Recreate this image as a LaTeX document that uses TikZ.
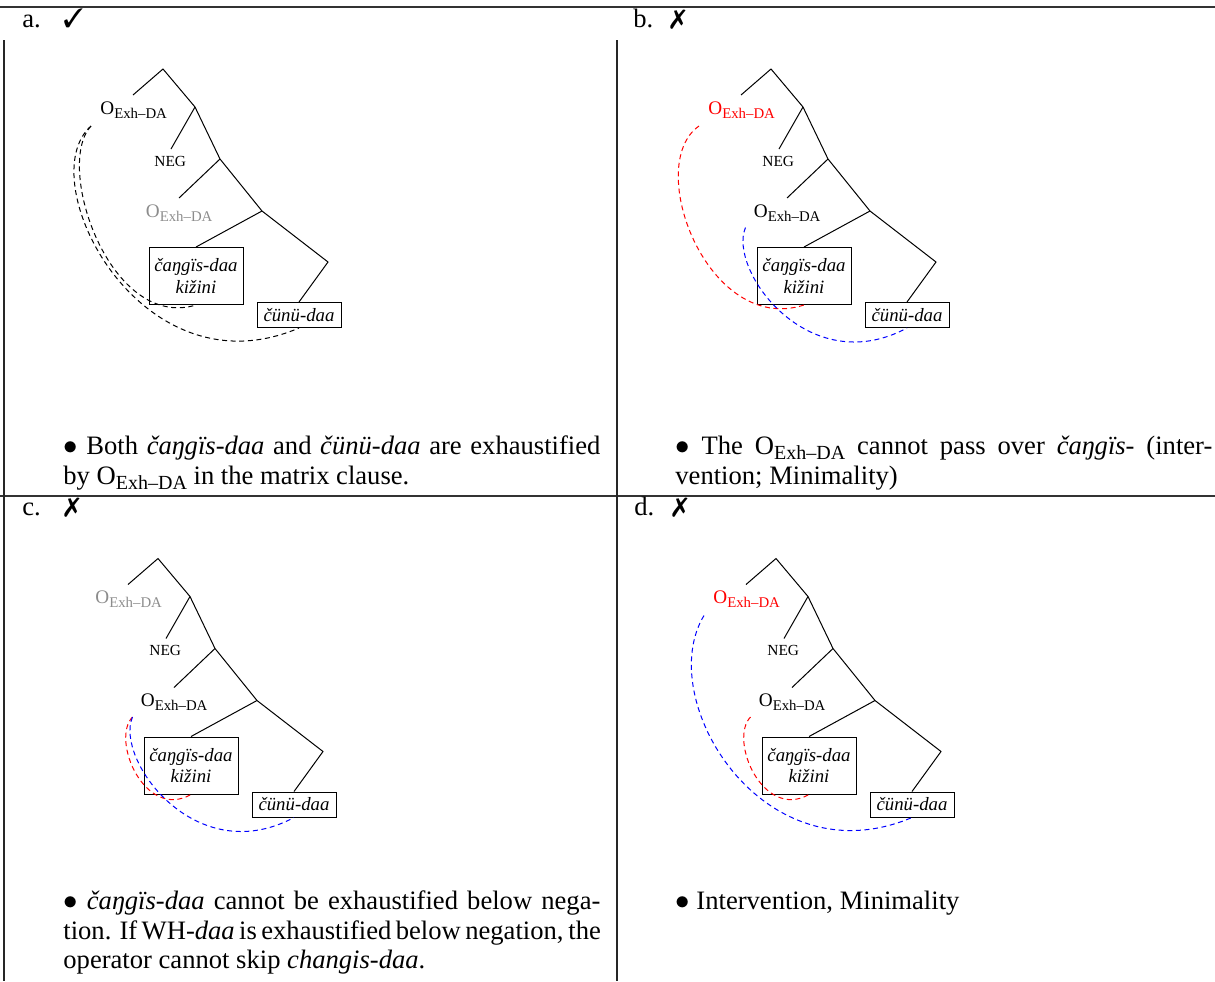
\documentclass[tikz,border=0pt]{standalone}
\usepackage{fontspec}
\setmainfont{Liberation Serif}
\usepackage{pifont}
\definecolor{tgray}{gray}{0.55}
\newcommand\OX[1]{O\raisebox{-0.21em}{\fontsize{#1}{#1}\selectfont Exh–DA}}
\newcommand\bul{$\bullet$}
\tikzset{
  tl/.style={line width=0.5pt},
  lbl/.style={inner sep=0pt, anchor=base west, font=\fontsize{9.6}{11}\selectfont},
  neg/.style={inner sep=0pt, anchor=base west, font=\fontsize{7.7}{9}\selectfont},
  wbox/.style={draw, line width=0.5pt, inner sep=0pt, align=center, anchor=north,
    font=\fontsize{9.4}{10.6}\selectfont\itshape},
  arc/.style={dash pattern=on 2.5pt off 1.8pt, line width=0.5pt},
  hrule/.style={line width=0.75pt, black!80},
  vrule/.style={line width=0.6pt, black!85},
  body/.style={inner sep=0pt, anchor=base west, font=\fontsize{13.3}{15}\selectfont},
  hdr/.style={inner sep=0pt, anchor=base west, font=\fontsize{13.3}{15}\selectfont},
}
% tree panel: #1 prefix, #2 shift, #3 colour of upper O, #4 colour of lower O, #5 curves
\newcommand\treepanel[5]{%
\begin{scope}[shift={(#2)}]
  \coordinate (#1-t0) at (163,69);
  \coordinate (#1-l0) at (133,95);
  \coordinate (#1-n1) at (195,107);
  \coordinate (#1-l1) at (171,149);
  \coordinate (#1-n2) at (220,159);
  \coordinate (#1-l2) at (179,198);
  \coordinate (#1-n3) at (262,211);
  \coordinate (#1-n4) at (328,262);
  \coordinate (#1-s1) at (91,126);
  \coordinate (#1-s2) at (137.5,227.5);
  \node[lbl, text=#3] (#1-o1) at (100,114.3) {\OX{7.4}};
  \node[neg] (#1-neg) at (154,166) {NEG};
  \node[lbl, text=#4] (#1-o2) at (145.5,217.3) {\OX{7.4}};
  \node[wbox, minimum width=47pt, minimum height=28.5pt] (#1-b1) at (196,247) {čaŋgïs-daa\\kižini};
  \node[wbox, minimum width=42pt, minimum height=12.5pt] (#1-b2) at (299,302) {čünü-daa};
  \draw[tl] (#1-l0) -- (#1-t0) -- (#1-n1) -- (#1-n2) -- (#1-n3) -- (#1-n4) -- (#1-b2.north);
  \draw[tl] (#1-n1) -- (#1-l1);
  \draw[tl] (#1-n2) -- (#1-l2);
  \draw[tl] (#1-n3) -- (#1-b1.north);
  #5
\end{scope}}
% upper O -> box 1 (panel a, inner)
\newcommand\cOneA[2]{\draw[arc,#2] (#1-s1) .. controls +(-37,40) and +(-86,26) .. (#1-b1.south);}
% upper O -> box 1 (panel b, wider)
\newcommand\cOneB[2]{\draw[arc,#2] (#1-s1) .. controls +(-56,39) and +(-96,31) .. (#1-b1.south);}
% upper O -> box 2 (panel a, outer)
\newcommand\cTwoA[2]{\draw[arc,#2] (#1-s1) .. controls +(-61,54) and +(-159,68) .. (#1-b2.south);}
% upper O -> box 2 (panel d)
\newcommand\cTwo[2]{\draw[arc,#2] (#1-s1) .. controls +(-51,84) and +(-149,63) .. (#1-b2.south);}
% lower O -> box 1
\newcommand\cThree[2]{\draw[arc,#2] (#1-s2) .. controls +(-22,23) and +(-46,26) .. (#1-b1.south);}
% lower O -> box 2
\newcommand\cFour[2]{\draw[arc,#2] (#1-s2) .. controls +(-18,42) and +(-99,53) .. (#1-b2.south);}
\begin{document}
\begin{tikzpicture}[x=0.5pt,y=-0.5pt]
\useasboundingbox (0,0) rectangle (1215,981);
% table rules
\draw[hrule] (0,7) -- (1215,7);
\draw[hrule] (0,496) -- (1215,496);
\draw[vrule] (4,40) -- (4,981);
\draw[vrule] (617,40) -- (617,981);
% headers
\node[hdr] (ha) at (22,27) {a.};
\node[hdr] (ham) at (63,27) {\ding{51}};
\node[hdr] (hb) at (633,27) {b.};
\node[hdr] (hbm) at (670,27) {\ding{55}};
\node[hdr] (hc) at (22,515) {c.};
\node[hdr] (hcm) at (64,515) {\ding{55}};
\node[hdr] (hd) at (634,515) {d.};
\node[hdr] (hdm) at (672,515) {\ding{55}};
% trees
\treepanel{a}{0,0}{black}{tgray}{\cOneA{a}{black}\cTwoA{a}{black}}
\treepanel{b}{608,0}{red}{black}{\cOneB{b}{red}\cFour{b}{blue}}
\treepanel{c}{-5,489.5}{tgray}{black}{\cThree{c}{red}\cFour{c}{blue}}
\treepanel{d}{613,489.5}{red}{black}{\cTwo{d}{blue}\cThree{d}{red}}
% texts
\node[body] (ta1) at (63,454) {\makebox[268.5pt][s]{\bul{} Both \emph{čaŋgïs-daa} and \emph{čünü-daa} are exhaustified}};
\node[body] (ta2) at (63,484) {by \OX{10} in the matrix clause.};
\node[body] (tb1) at (675,454) {\makebox[268.5pt][s]{\bul{} The \OX{10} cannot pass over \emph{čaŋgïs}- (inter-}};
\node[body] (tb2) at (675,484) {vention; Minimality)};
\node[body] (tc1) at (63,909) {\makebox[268.5pt][s]{\bul{} \emph{čaŋgïs-daa} cannot be exhaustified below nega-}};
\node[body] (tc2) at (63,939) {\makebox[268.5pt][s]{tion. If WH-\emph{daa} is exhaustified below negation, the}};
\node[body] (tc3) at (63,968) {operator cannot skip \emph{changis-daa}.};
\node[body] (td1) at (675,909) {\bul{} Intervention, Minimality};
\end{tikzpicture}
\end{document}
